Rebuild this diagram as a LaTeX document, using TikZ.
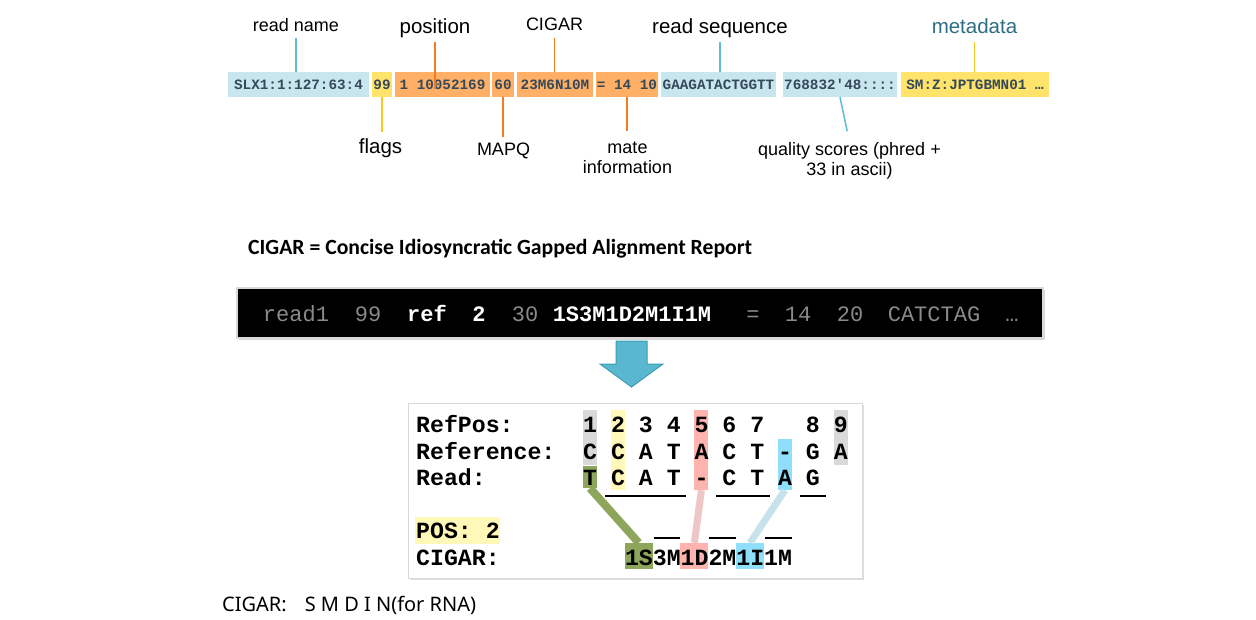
\documentclass[tikz,border=0pt]{standalone}
\usepackage{fontspec}
\usepackage{tikz}
\usetikzlibrary{positioning, shadows, calc}
\setmainfont{Liberation Sans}
\newfontfamily\samfont{Liberation Mono}
\newfontfamily\titlefont{Carlito}
\newfontfamily\notefont{Noto Sans}
\definecolor{samblue}{HTML}{C8E6EE}
\definecolor{samyellow}{HTML}{FFE36A}
\definecolor{samorange}{HTML}{FFAF66}
\definecolor{samtext}{HTML}{34495A}
\definecolor{lineblue}{HTML}{5DBBD5}
\definecolor{lineorange}{HTML}{F47B20}
\definecolor{lineyellow}{HTML}{F7C81E}
\definecolor{metateal}{HTML}{2E6E82}
\definecolor{tokgray}{HTML}{8A8A8A}
\definecolor{arrowblue}{HTML}{5AB7D0}
\definecolor{arrowedge}{HTML}{3C9DB5}
\definecolor{cellgray}{HTML}{D9D9D9}
\definecolor{cellyellow}{HTML}{FFF8B8}
\definecolor{cellred}{HTML}{FFB3AE}
\definecolor{cellblue}{HTML}{8FDFFB}
\definecolor{cellgreen}{HTML}{8DA65B}
\definecolor{linkred}{HTML}{EEC6C6}
\definecolor{linkblue}{HTML}{C6E3EC}
\tikzstyle{field} = [rectangle, inner sep=0pt, minimum height=25pt, text=samtext, font=\samfont\bfseries\fontsize{14.3}{16}\selectfont]
\tikzstyle{lbl} = [inner sep=0pt, align=center, font=\fontsize{18}{20}\selectfont]
\tikzstyle{biglbl} = [inner sep=0pt, align=center, font=\fontsize{20.5}{23}\selectfont]
\tikzstyle{tick} = [line width=1.5pt]
\tikzstyle{tok} = [inner sep=0pt, anchor=base, text=tokgray, font=\samfont\fontsize{22}{24}\selectfont]
\tikzstyle{keytok} = [tok, text=white, font=\samfont\bfseries\fontsize{22}{24}\selectfont]
\tikzstyle{aln} = [inner sep=0pt, anchor=base west, font=\samfont\bfseries\frenchspacing\fontsize{23.2}{25}\selectfont]
\tikzstyle{cell} = [inner sep=0pt, minimum width=13.92pt]
\tikzstyle{opcell} = [inner sep=0pt, minimum width=27.84pt, minimum height=26pt]
\tikzstyle{rule} = [line width=1.8pt, black]
\newcommand\colx[1]{416+#1*13.92}

\begin{document}
\begin{tikzpicture}[x=1pt, y=-1pt]
    \useasboundingbox (0,0) rectangle (1256,619);

    % SAM record
    \node[field, fill=samblue, minimum width=141pt] (fname) at (298.5,84.5) {SLX1:1:127:63:4};
    \node[field, fill=samyellow, minimum width=20pt] (fflag) at (382,84.5) {99};
    \node[field, fill=samorange, minimum width=95pt] (fpos) at (442.5,84.5) {1 10052169};
    \node[field, fill=samorange, minimum width=22pt] (fmapq) at (503,84.5) {60};
    \node[field, fill=samorange, minimum width=76pt] (fcigar) at (555,84.5) {23M6N10M};
    \node[field, fill=samorange, minimum width=62pt] (fmate) at (627,84.5) {= 14 10};
    \node[field, fill=samblue, minimum width=115pt] (fseq) at (718.5,84.5) {GAAGATACTGGTT};
    \node[field, fill=samblue, minimum width=114pt] (fqual) at (840,84.5) {768832'48::::};
    \node[field, fill=samyellow, minimum width=148pt] (fmeta) at (975,84.5) {SM:Z:JPTGBMN01 …};

    \node[lbl, anchor=base] (lname) at (296,31) {read name};
    \node[biglbl, anchor=base] (lpos) at (435,33) {position};
    \node[lbl, anchor=base] (lcigar) at (554.5,30) {CIGAR};
    \node[biglbl, anchor=base] (lseq) at (720,33) {read sequence};
    \node[biglbl, anchor=base, text=metateal] (lmeta) at (974.5,33) {metadata};
    \node[biglbl, anchor=base] (lflag) at (380.5,153) {flags};
    \node[lbl, anchor=base] (lmapq) at (503.5,155) {MAPQ};
    \node[lbl, anchor=north] (lmate) at (627.5,142) {mate\\information};
    \node[lbl, anchor=north] (lqual) at (849.5,142) {quality scores (phred +\\33 in ascii)};

    \draw[tick, lineblue, shorten <=7pt] (lname.south) -- (lname.south |- fname.north);
    \draw[tick, lineorange, shorten <=5pt] (lpos.south) -- ($(lpos.south |- fpos.center)+(0,4)$);
    \draw[tick, lineorange, shorten <=8pt] (lcigar.south) -- (lcigar.south |- fcigar.north);
    \draw[tick, lineblue, shorten <=5pt] (lseq.south) -- (lseq.south |- fseq.north);
    \draw[tick, lineyellow, shorten <=9pt] (lmeta.south) -- (lmeta.south |- fmeta.north);
    \draw[tick, lineyellow, shorten >=6pt] (fflag.south) -- (fflag.south |- lflag.north);
    \draw[tick, lineorange, shorten >=5pt] (fmapq.south) -- (fmapq.south |- lmapq.north);
    \draw[tick, lineorange, shorten >=11pt] (fmate.south) -- (fmate.south |- lmate.north);
    \draw[tick, lineblue, shorten >=11pt] (fqual.south) -- (lqual.north);

    \node[anchor=base west, inner sep=0pt, font=\titlefont\bfseries\fontsize{21.7}{25}\selectfont] (title) at (248,254) {CIGAR = Concise Idiosyncratic Gapped Alignment Report};

    % example record
    \node[fill=black, draw=gray!30, line width=2pt, minimum width=806pt, minimum height=50pt,
          drop shadow={shadow xshift=1.5pt, shadow yshift=-2pt, fill=gray!60}] (cmdbar) at (640,313) {};
    \node[tok] (tname) at (296,321) {read1};
    \node[tok] (tflag) at (368,321) {99};
    \node[keytok] (tref) at (427,321) {ref};
    \node[keytok] (tpos) at (479,321) {2};
    \node[tok] (tmapq) at (525,321) {30};
    \node[keytok] (tcigar) at (632,321) {1S3M1D2M1I1M};
    \node[tok] (tmref) at (753,321) {=};
    \node[tok] (tmpos) at (798,321) {14};
    \node[tok] (ttlen) at (850,321) {20};
    \node[tok] (tseq) at (934,321) {CATCTAG};
    \node[tok] (tmore) at (1012,321) {…};

    \draw[fill=arrowblue, draw=arrowedge, line width=1pt]
        (616,341) -- (647,341) -- (647,364) -- (663,364) -- (631.5,387) -- (600,364) -- (616,364) -- cycle;

    % alignment
    \node[draw=gray!30, fill=white, minimum width=454pt, minimum height=175pt,
          drop shadow={shadow xshift=2pt, shadow yshift=-2pt, fill=gray!50}] (alnbox) at (635,490.5) {};

    \node[cell, fill=cellgray, minimum height=55pt] (clipref) at (\colx{12}+6.96,437.5) {};
    \node[cell, fill=cellyellow, minimum height=80pt] (startcol) at (\colx{14}+6.96,450) {};
    \node[cell, fill=cellred, minimum height=80pt] (delcol) at (\colx{20}+6.96,450) {};
    \node[cell, fill=cellblue, minimum height=51pt] (inscol) at (\colx{26}+6.96,464.5) {};
    \node[cell, fill=cellgray, minimum height=55pt] (endref) at (\colx{30}+6.96,437.5) {};
    \node[cell, fill=cellgreen, minimum height=22pt] (clipread) at (\colx{12}+6.96,477) {};
    \node[inner sep=0pt, fill=cellyellow, minimum width=85pt, minimum height=27pt] (posbg) at (457.8,530.5) {};
    \node[opcell, fill=cellgreen] (opS) at (\colx{16},556) {};
    \node[opcell, fill=cellred] (opD) at (\colx{20},556) {};
    \node[opcell, fill=cellblue] (opI) at (\colx{24},556) {};

    \draw[line width=8pt, cellgreen] (clipread.south) -- (opS.north);
    \draw[line width=7pt, linkred] (delcol.south) -- (opD.north);
    \draw[line width=7pt, linkblue] (inscol.south) -- (opI.north);

    \node[aln] (lrefpos) at (416,432) {RefPos:};
    \node[aln] (refpos) at (\colx{12},432) {1 2 3 4 5 6 7~~~8 9};
    \node[aln] (lrefseq) at (416,459) {Reference:};
    \node[aln] (refseq) at (\colx{12},459) {C C A T A C T - G A};
    \node[aln] (lread) at (416,485) {Read:};
    \node[aln] (readseq) at (\colx{12},485) {T C A T - C T A G};
    \node[aln] (lstart) at (416,538) {POS: 2};
    \node[aln] (lcig) at (416,565) {CIGAR:};
    \node[aln] (cigstr) at (\colx{15},565) {1S3M1D2M1I1M};

    \draw[rule] (\colx{14}-6,496) -- (\colx{19}+6,496);
    \draw[rule] (\colx{22}-6,496) -- (\colx{25}+6,496);
    \draw[rule] (\colx{28}-6,496) -- (\colx{29}+6,496);
    \draw[rule] (\colx{17}+1,538) -- (\colx{19},538);
    \draw[rule] (\colx{21}+1,538) -- (\colx{23},538);
    \draw[rule] (\colx{25}+1,538) -- (\colx{27},538);

    \node[anchor=base west, inner sep=0pt, font=\notefont\fontsize{20}{24}\selectfont] (cigarops) at (222,611) {CIGAR:\hspace{18pt}S M D I N(for RNA)};
\end{tikzpicture}
\end{document}
